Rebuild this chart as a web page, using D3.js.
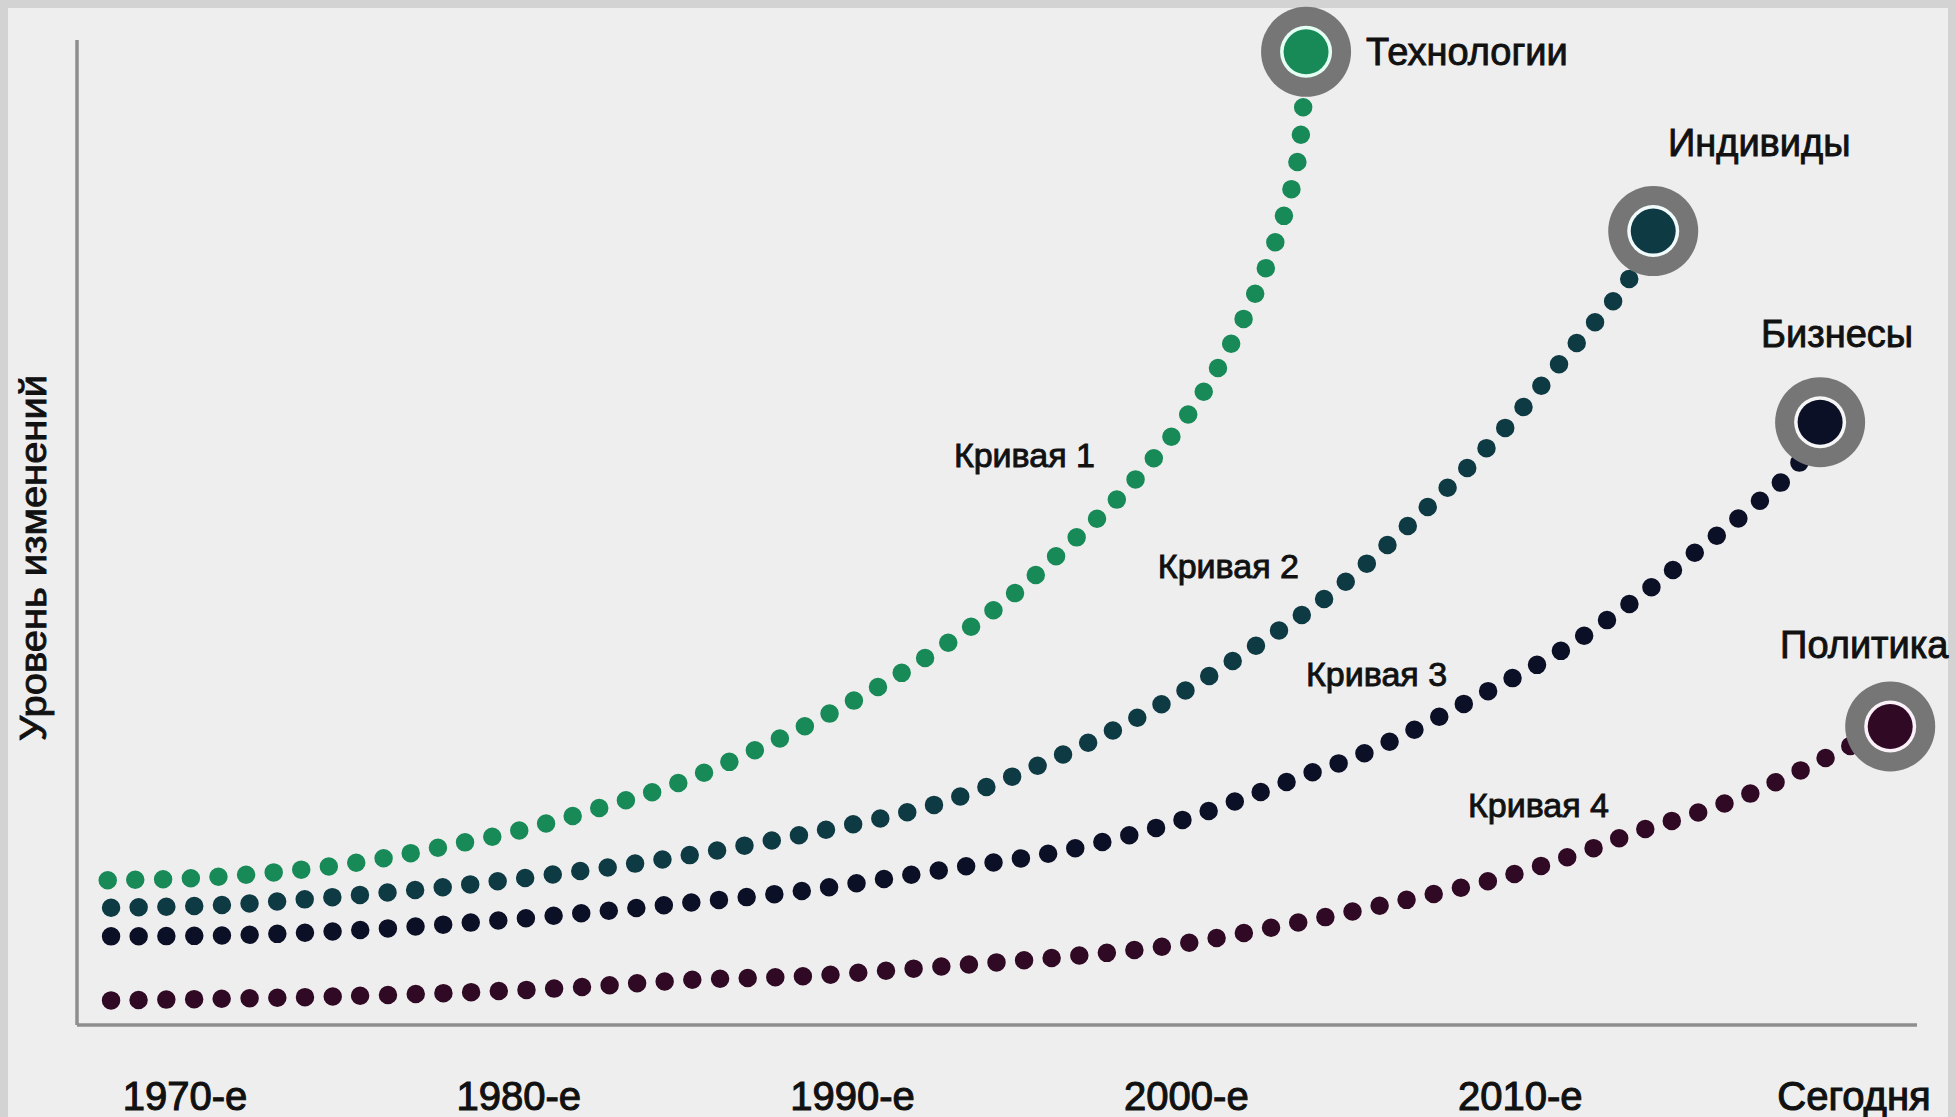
<!DOCTYPE html>
<html>
<head>
<meta charset="utf-8">
<script src="https://cdn.jsdelivr.net/npm/d3@7"></script>
<style>
  html, body { margin: 0; padding: 0; background: #d3d3d3; }
  svg { display: block; }
  text { font-family: "Liberation Sans", Arial, Helvetica, sans-serif; fill: #111; stroke: #111; stroke-width: 0.9px; }
</style>
</head>
<body>
<svg id="chart" width="1956" height="1117"></svg>
<script>
// ---------- DATA ----------
const tickYears  = [1970, 1980, 1990, 2000, 2010, 2020];
const tickLabels = ["1970-е", "1980-е", "1990-е", "2000-е", "2010-е", "Сегодня"];
const yAxisTitle = "Уровень изменений";

const seriesNames = ["Технологии", "Индивиды", "Бизнесы", "Политика"];
const curveLabels = ["Кривая 1", "Кривая 2", "Кривая 3", "Кривая 4"];

// Curve 1 — Технологии
const techYears  = [1967.7, 1970.2, 1972.7, 1975.2, 1977.6, 1980.1, 1982.5, 1984.9, 1988.8, 1991.7, 1994.5, 1996.4, 1998.2, 2000.3, 2001.6, 2002.6, 2003.3, 2003.5, 2003.6];
const techValues = [14.7, 14.9, 15.5, 16.5, 18.0, 19.8, 22.1, 24.7, 30.7, 36.2, 42.8, 48.5, 54.3, 63.1, 70.8, 78.7, 86.9, 92.6, 98.8];

// Curve 2 — Индивиды
const indivYears  = [1967.8, 1971.2, 1974.5, 1977.8, 1981.1, 1984.5, 1988.6, 1992.7, 1996.6, 1999.6, 2002.5, 2004.5, 2007.0, 2009.4, 2011.6, 2013.2, 2014.0];
const indivValues = [11.9, 12.2, 13.0, 14.0, 15.3, 16.9, 19.4, 22.6, 27.9, 33.2, 39.4, 44.2, 51.8, 60.0, 68.8, 75.3, 80.6];

// Curve 3 — Бизнесы
const bizYears  = [1967.8, 1971.2, 1974.5, 1977.8, 1981.1, 1984.5, 1988.7, 1992.8, 1996.2, 1999.4, 2001.8, 2003.5, 2005.0, 2006.5, 2008.1, 2009.5, 2011.0, 2012.4, 2013.7, 2015.0, 2016.4, 2017.7, 2018.3, 2019.0];
const bizValues = [9.0, 9.1, 9.5, 10.2, 11.1, 12.2, 13.7, 15.8, 17.6, 20.3, 23.1, 25.3, 27.1, 29.4, 32.2, 34.7, 37.5, 40.6, 43.8, 47.3, 51.0, 54.7, 56.7, 61.2];

// Curve 4 — Политика
const polYears  = [1967.8, 1974.5, 1981.1, 1985.3, 1988.8, 1992.9, 1996.3, 1999.6, 2002.9, 2006.2, 2009.5, 2012.0, 2013.5, 2015.1, 2016.7, 2018.2, 2019.7, 2021.1];
const polValues = [2.5, 2.9, 3.7, 4.6, 5.0, 6.0, 6.9, 8.1, 10.1, 12.4, 15.0, 17.7, 19.6, 21.3, 23.2, 25.5, 28.0, 30.3];

// Curve label anchor positions (in data units: year, level)
const curveLabelYears  = [1993.05, 1999.16, 2003.6, 2008.45];
const curveLabelValues = [56.65, 45.38, 34.42, 21.12];

// ---------- STYLE / LAYOUT ----------
const W = 1956, H = 1117;
const colors    = ["#178a57", "#0e3a44", "#0c1027", "#300a25"];
const ringFills = ["#e6fff4", "#f2fbfb", "#f6f6f6", "#fbf1f8"];
const endLabelLayout = [
  { dx: 60,    dy: 13,    anchor: "start"  },
  { dx: 106,   dy: -75,   anchor: "middle" },
  { dx: 17,    dy: -75,   anchor: "middle" },
  { dx: -26,   dy: -68.5, anchor: "middle" }
];

const series = [
  { years: techYears,  values: techValues  },
  { years: indivYears, values: indivValues },
  { years: bizYears,   values: bizValues   },
  { years: polYears,   values: polValues   }
].map((s, i) => ({
  name: seriesNames[i],
  curve: curveLabels[i],
  color: colors[i],
  ring: ringFills[i],
  points: s.years.map((yr, j) => ({ year: yr, value: s.values[j] })),
  labelPos: { year: curveLabelYears[i], value: curveLabelValues[i] },
  endLayout: endLabelLayout[i]
}));

// ---------- SCALES ----------
const x = d3.scaleLinear().domain([1970, 2020]).range([184.5, 1853.5]);
const y = d3.scaleLinear().domain([0, 100]).range([1025, 40]);

const svg = d3.select("#chart");

// Panel background
svg.append("rect").attr("x", 0).attr("y", 0).attr("width", W).attr("height", H).attr("fill", "#d3d3d3");
svg.append("rect").attr("x", 8).attr("y", 8).attr("width", W - 16).attr("height", H - 8).attr("fill", "#eeeeee");

// Axes lines
const axisColor = "#8e8e8e";
svg.append("line")
  .attr("x1", 77).attr("x2", 77)
  .attr("y1", y(100)).attr("y2", y(0))
  .attr("stroke", axisColor).attr("stroke-width", 3.5);
svg.append("line")
  .attr("x1", 77).attr("x2", 1917)
  .attr("y1", y(0)).attr("y2", y(0))
  .attr("stroke", axisColor).attr("stroke-width", 3.5);

// X tick labels via d3 axis
const xAxis = d3.axisBottom(x)
  .tickValues(tickYears)
  .tickSize(0)
  .tickFormat((d, i) => tickLabels[i]);
const gx = svg.append("g").attr("transform", "translate(0,1110)").call(xAxis);
gx.select(".domain").remove();
gx.selectAll("text")
  .attr("dy", 0).attr("y", 0)
  .style("font-family", "\"Liberation Sans\", Arial, sans-serif")
  .style("font-size", "40px")
  .style("stroke", "#111").style("stroke-width", "1.1px")
  .attr("fill", "#111");

// Y axis title
svg.append("text")
  .attr("transform", `translate(46,558) rotate(-90)`)
  .attr("text-anchor", "middle")
  .attr("textLength", 366)
  .attr("lengthAdjust", "spacingAndGlyphs")
  .style("font-size", "37px")
  .text(yAxisTitle);

// Curves (dotted)
const line = d3.line()
  .x(d => x(d.year))
  .y(d => y(d.value))
  .curve(d3.curveCatmullRom.alpha(0.5));

svg.append("g").selectAll("path")
  .data(series)
  .join("path")
  .attr("d", d => line(d.points))
  .attr("fill", "none")
  .attr("stroke", d => d.color)
  .attr("stroke-width", 18.5)
  .attr("stroke-linecap", "round")
  .attr("stroke-dasharray", "0 27.7");

// End markers
const markers = svg.append("g").selectAll("g")
  .data(series)
  .join("g")
  .attr("transform", d => {
    const p = d.points[d.points.length - 1];
    return `translate(${x(p.year)},${y(p.value)})`;
  });
markers.append("circle").attr("r", 45).attr("fill", "#767676");
markers.append("circle").attr("r", 26).attr("fill", d => d.ring);
markers.append("circle").attr("r", 22.5).attr("fill", d => d.color);

// End labels
markers.append("text")
  .attr("x", d => d.endLayout.dx)
  .attr("y", d => d.endLayout.dy)
  .attr("text-anchor", d => d.endLayout.anchor)
  .style("font-size", "38px")
  .text(d => d.name);

// Curve labels
svg.append("g").selectAll("text")
  .data(series)
  .join("text")
  .attr("x", d => x(d.labelPos.year))
  .attr("y", d => y(d.labelPos.value))
  .style("font-size", "34px")
  .text(d => d.curve);
</script>
</body>
</html>
